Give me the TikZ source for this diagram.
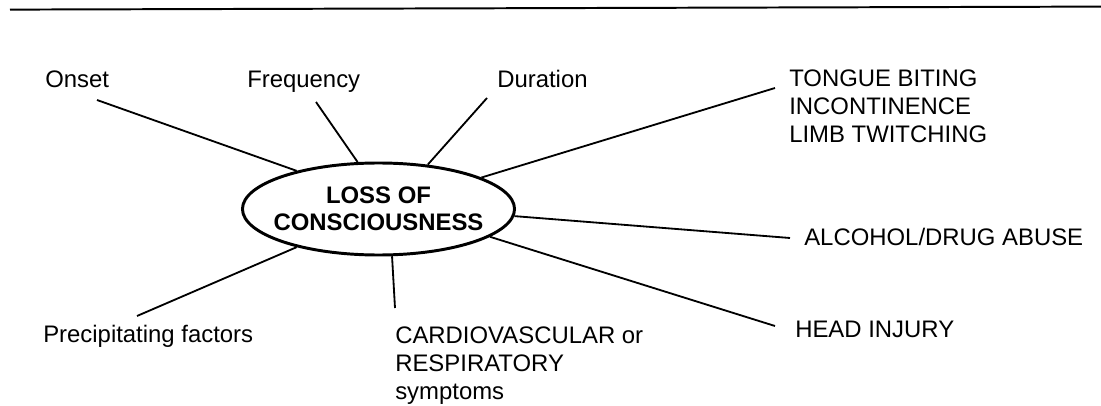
\documentclass[tikz,border=0pt]{standalone}
\usepackage{fontspec}
\setmainfont{Liberation Sans}
\usetikzlibrary{shapes.geometric}

\begin{document}
\begin{tikzpicture}[
          every node/.style={font=\fontsize{17}{19.6}\selectfont,inner sep=0pt},
          label/.style={anchor=base west},
          block/.style={anchor=north west,align=left},
          hub/.style={ellipse,draw,line width=2.1pt,minimum width=6.675cm,
              minimum height=2.3cm,inner xsep=-6.2pt,align=center,
              font=\fontsize{17}{19.2}\selectfont\bfseries},
          spoke/.style={line width=1.3pt}]
        \useasboundingbox (0,0) rectangle (27.525,10.125);
        \draw[line width=1.4pt] (0.25,9.885) -- (27.525,9.96);

        \node[hub] (loc) at (9.4625,4.9) {LOSS OF\\CONSCIOUSNESS};

        \node[label] (onset) at (1.125,7.925) {Onset};
        \node[label] (freq) at (6.175,7.925) {Frequency};
        \node[label] (dur) at (12.425,7.925) {Duration};
        \node[block] (fits) at (19.725,8.375)
          {TONGUE BITING\\INCONTINENCE\\LIMB TWITCHING};
        \node[label] (alcohol) at (20.1,3.975) {ALCOHOL/DRUG ABUSE};
        \node[label] (head) at (19.875,1.7) {HEAD INJURY};
        \node[block] (cardio) at (9.875,1.95)
          {CARDIOVASCULAR or\\RESPIRATORY\\symptoms};
        \node[label] (precip) at (1.075,1.55) {Precipitating factors};

        \coordinate (onset-e) at (2.425,7.625);
        \coordinate (freq-e) at (7.9,7.575);
        \coordinate (dur-e) at (12.175,7.675);
        \coordinate (fits-e) at (19.375,7.925);
        \coordinate (alcohol-e) at (19.75,4.175);
        \coordinate (head-e) at (19.375,1.975);
        \coordinate (cardio-e) at (9.875,2.425);
        \coordinate (precip-e) at (3.425,2.225);

        \foreach \n/\a in {onset/155,freq/114,dur/42,fits/17,alcohol/-3,
                           head/-14.5,cardio/-74,precip/205}{
          \draw[spoke] (loc.\a) -- (\n-e);
        }
      \end{tikzpicture}
\end{document}
